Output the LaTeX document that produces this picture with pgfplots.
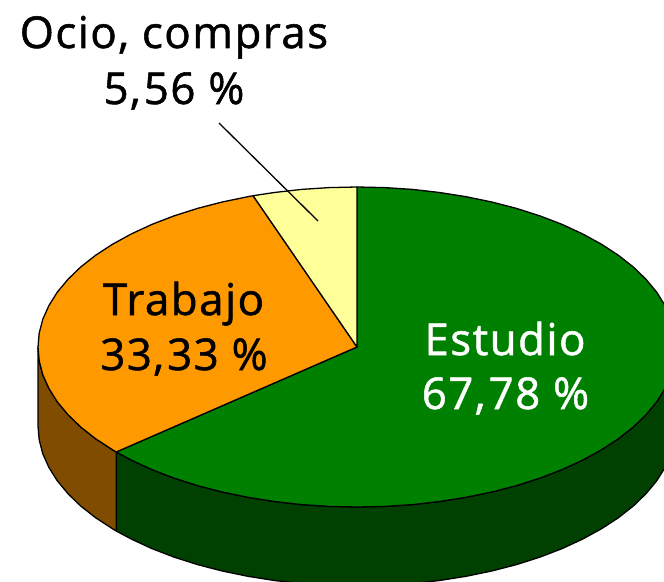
\documentclass[border=0pt]{standalone}
\usepackage{pgfplots}
\usepackage{fontspec}
\pgfplotsset{compat=1.18}
\setmainfont[LetterSpace=3.4,FakeBold=1.2]{Open Sans}
\definecolor{gTop}{HTML}{008000}
\definecolor{gSide}{HTML}{004000}
\definecolor{oTop}{HTML}{FF9900}
\definecolor{oSide}{HTML}{804D00}
\definecolor{yTop}{HTML}{FFFF99}
\begin{document}
\begin{tikzpicture}
\begin{axis}[
  scale only axis, width=664bp, height=582bp,
  xmin=0, xmax=664, ymin=0, ymax=582, y dir=reverse,
  hide axis, clip=true,
  every axis plot/.append style={no markers, line width=1.3pt, line join=round, draw=black},
]
\path (axis cs:0,0) rectangle (axis cs:664,582);
% green side wall
\addplot[fill=gSide] coordinates {
(676,347)(674.8,360.9)(671.2,374.8)(665.1,388.4)(656.8,401.7)(646.1,414.6)(633.3,427)(618.3,438.8)(601.4,449.8)(582.6,460.1)(562.1,469.6)(540,478.1)(516.5,485.6)(491.8,492)(466.1,497.3)(439.6,501.5)(412.4,504.6)(384.8,506.4)(357,507)(329.2,506.4)(301.6,504.6)(274.4,501.5)(247.9,497.3)(222.2,492)(197.5,485.6)(174,478.1)(151.9,469.6)(131.4,460.1)(116.2,452)
(116.2,531)(131.4,539.1)(151.9,548.6)(174,557.1)(197.5,564.6)(222.2,571)(247.9,576.3)(274.4,580.5)(301.6,583.6)(329.2,585.4)(357,586)(384.8,585.4)(412.4,583.6)(439.6,580.5)(466.1,576.3)(491.8,571)(516.5,564.6)(540,557.1)(562.1,548.6)(582.6,539.1)(601.4,528.8)(618.3,517.8)(633.3,506)(646.1,493.6)(656.8,480.7)(665.1,467.4)(671.2,453.8)(674.8,439.9)(676,426)
} -- cycle;
% orange side wall
\addplot[fill=oSide] coordinates {
(116.2,452)(112.6,449.8)(95.7,438.8)(80.7,427)(67.9,414.6)(57.2,401.7)(48.9,388.4)(42.8,374.8)(39.2,360.9)(38,347)
(38,426)(39.2,439.9)(42.8,453.8)(48.9,467.4)(57.2,480.7)(67.9,493.6)(80.7,506)(95.7,517.8)(112.6,528.8)(116.2,531)
} -- cycle;
% green top
\addplot[fill=gTop] coordinates {
(357,347)(357,187)(384.8,187.6)(412.4,189.4)(439.6,192.5)(466.1,196.7)(491.8,202)(516.5,208.4)(540,215.9)(562.1,224.4)(582.6,233.9)(601.4,244.2)(618.3,255.2)(633.3,267)(646.1,279.4)(656.8,292.3)(665.1,305.6)(671.2,319.2)(674.8,333.1)(676,347)(674.8,360.9)(671.2,374.8)(665.1,388.4)(656.8,401.7)(646.1,414.6)(633.3,427)(618.3,438.8)(601.4,449.8)(582.6,460.1)(562.1,469.6)(540,478.1)(516.5,485.6)(491.8,492)(466.1,497.3)(439.6,501.5)(412.4,504.6)(384.8,506.4)(357,507)(329.2,506.4)(301.6,504.6)(274.4,501.5)(247.9,497.3)(222.2,492)(197.5,485.6)(174,478.1)(151.9,469.6)(131.4,460.1)(116.2,452)
} -- cycle;
% orange top
\addplot[fill=oTop] coordinates {
(357,347)(116.2,452)(112.6,449.8)(95.7,438.8)(80.7,427)(67.9,414.6)(57.2,401.7)(48.9,388.4)(42.8,374.8)(39.2,360.9)(38,347)(39.2,333.1)(42.8,319.2)(48.9,305.6)(57.2,292.3)(67.9,279.4)(80.7,267)(95.7,255.2)(112.6,244.2)(131.4,233.9)(151.9,224.4)(174,215.9)(197.5,208.4)(222.2,202)(247.9,196.7)(253.1,195.7)
} -- cycle;
% yellow top
\addplot[fill=yTop] coordinates {
(357,347)(253.1,195.7)(274.4,192.5)(301.6,189.4)(329.2,187.6)(357,187)
} -- cycle;
% leader line
\addplot[draw=black] coordinates {(219,123)(318,221)};
\newcommand{\lbl}[4]{\node[anchor=base,text=#4,inner sep=0pt,font=\fontsize{44}{44}\selectfont] at (axis cs:#1,#2) {#3};}
\lbl{174}{48}{Ocio, compras}{black}
\lbl{174}{104}{5,\kern3pt 56 \%}{black}
\lbl{183.5}{315}{Trabajo}{black}
\lbl{184}{370}{33,\kern3pt 33 \%}{black}
\lbl{505}{355}{Estudio}{white}
\lbl{505.5}{409}{67,\kern3pt 78 \%}{white}
\end{axis}
\end{tikzpicture}
\end{document}
